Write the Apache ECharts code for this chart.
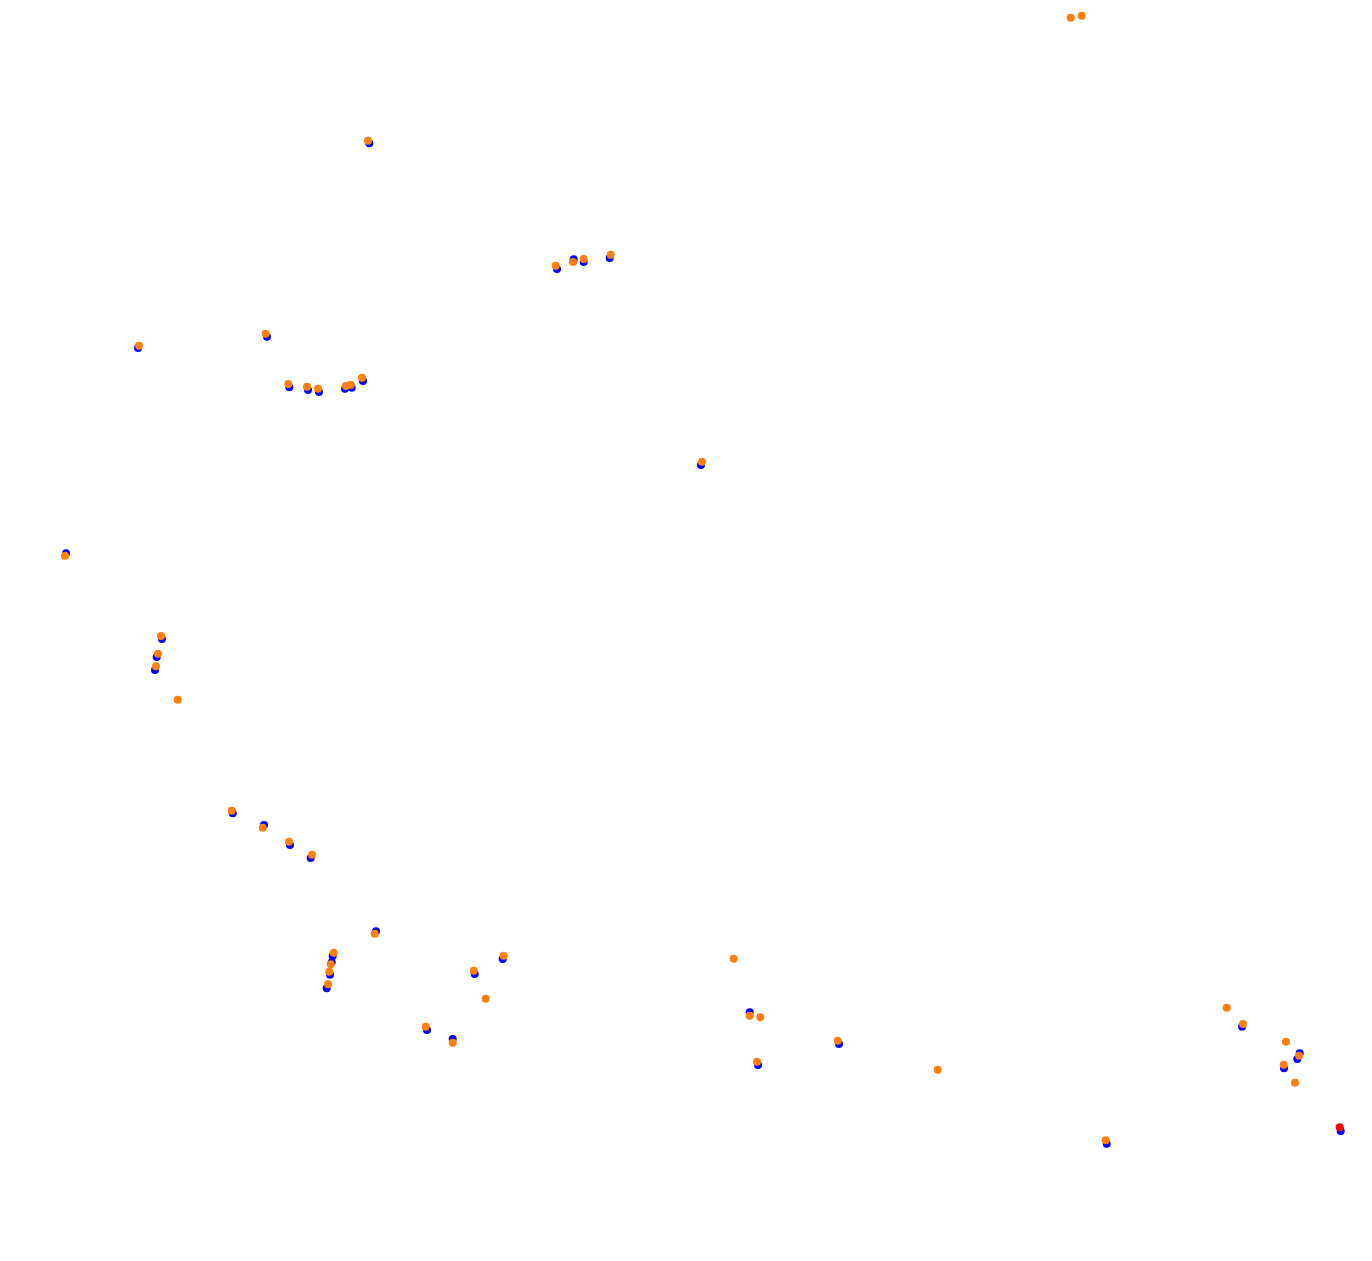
<!DOCTYPE html>
<html>
<head>
<meta charset="utf-8">
<script src="https://cdn.jsdelivr.net/npm/echarts@6/dist/echarts.min.js"></script>
<style>html,body{margin:0;padding:0;background:#fff}#c{width:1372px;height:1261px}</style>
</head>
<body>
<div id="c"></div>
<script>
// values (x, y), y grows downward
const bluePoints = [
  [369.3,143.3],[557,269],[573.7,259.3],[583.7,262],[609.7,258],
  [138,348],[267,336.7],[289.3,387.3],[308,390],[319,392],[345,388.7],[351.7,387.7],[363,381],
  [66,553.3],[162,639],[156.7,657],[155,670],
  [232.7,813.3],[264,825],[290,845],[310.7,858],[376,931.3],
  [332.7,956],[331.7,962.3],[330,974.7],[326.7,988.3],[474.7,974],[502.7,959],[427,1030],[452.7,1039],
  [701,465],[749.7,1012.3],[839,1044],[758,1065],
  [1242,1026.7],[1299.7,1053.3],[1297.3,1059],[1284,1068.3],[1106.7,1143.7],[1340.7,1131]
];
const orangePoints = [
  [1070.7,17.7],[1081.7,15.7],
  [368,140.7],[555.7,265.7],[573,262],[583.7,259],[610.7,254.7],
  [139,345.7],[265.7,333.7],[288.3,384],[307,386.7],[318,388.7],[346,386],[350.7,384.7],[362,377.7],
  [65,555.7],[161,636],[158,653.7],[156,666.3],[177.7,699.7],
  [231.7,810.7],[262.7,827.7],[289,841.7],[312,854.7],[374.7,933.7],
  [333.7,952.7],[330.7,964.3],[329.3,971.7],[328,984.3],[473.7,970.7],[503.7,955.7],[485.7,998.7],
  [425.7,1026.7],[452.7,1042.7],
  [702,461.7],[733.7,958.7],[749.7,1015.7],[760.3,1017.3],[837.7,1040.7],[757,1061.7],[937.7,1069.7],
  [1226.7,1007.7],[1243,1024],[1286,1041.7],[1299,1055.7],[1283.7,1064.7],[1295,1082.7],[1105.7,1140.3]
];
const redPoints = [[1339.7,1127.3]];

const chart = echarts.init(document.getElementById('c'));
chart.setOption({
  animation: false,
  backgroundColor: '#ffffff',
  grid: {left: 0, right: 0, top: 0, bottom: 0},
  xAxis: {type: 'value', min: 0, max: 1372, show: false},
  yAxis: {type: 'value', min: 0, max: 1261, inverse: true, show: false},
  series: [
    {type: 'scatter', data: bluePoints, symbolSize: 8, itemStyle: {color: '#0000ff', opacity: 1}},
    {type: 'scatter', data: orangePoints, symbolSize: 8, itemStyle: {color: '#ff7f0e', opacity: 1}},
    {type: 'scatter', data: redPoints, symbolSize: 8, itemStyle: {color: '#ff0000', opacity: 1}}
  ]
});
</script>
</body>
</html>
